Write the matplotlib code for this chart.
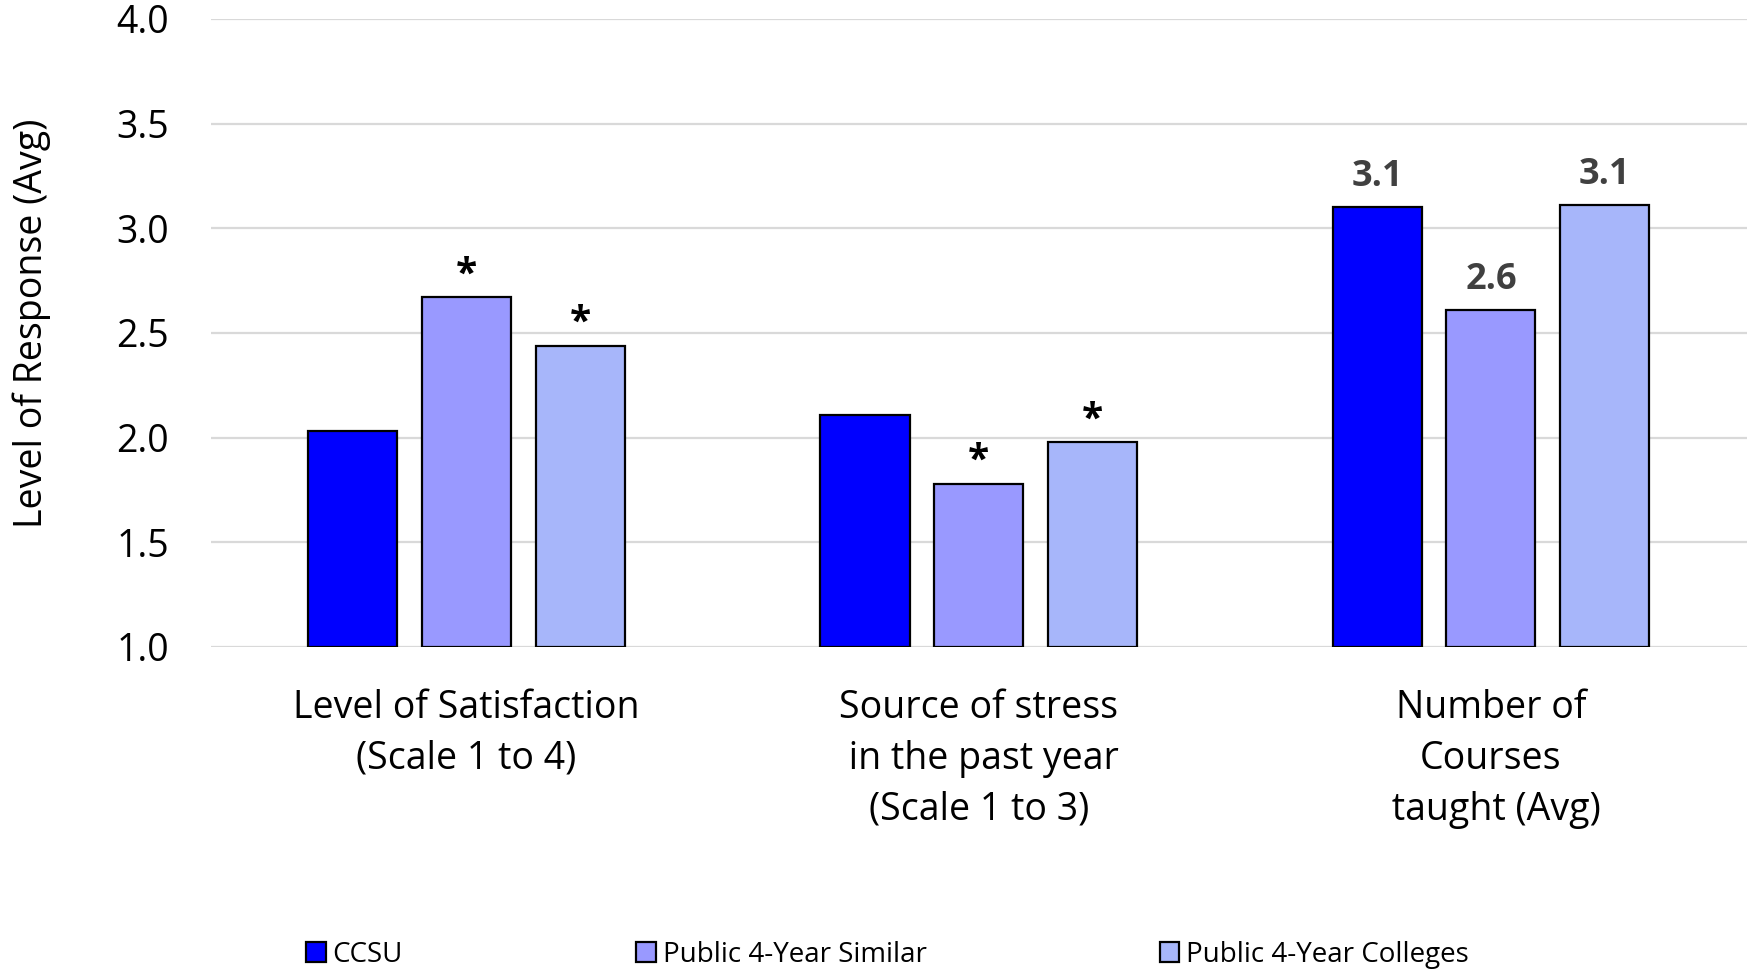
import matplotlib.pyplot as plt
import numpy as np

plt.rcParams['font.family'] = ['Open Sans', 'DejaVu Sans']

categories = ['Level of Satisfaction\n(Scale 1 to 4)',
              'Source of stress\n in the past year\n(Scale 1 to 3)',
              'Number of\nCourses\n taught (Avg)']
series = ['CCSU', 'Public 4-Year Similar', 'Public 4-Year Colleges']
ccsu = [2.03, 2.11, 3.10]
similar = [2.67, 1.78, 2.61]
colleges = [2.44, 1.98, 3.11]
# text shown above each bar ('' = nothing)
marks_ccsu = ['', '', '3.1']
marks_similar = ['*', '*', '2.6']
marks_colleges = ['*', '*', '3.1']
colors = ['#0000FF', '#9999FF', '#A7B6FA']

fig = plt.figure(figsize=(17.47, 9.72), dpi=100)
ax = fig.add_axes([0.1205, 0.3344, 0.8795, 0.6461])

x = np.arange(len(categories))
w = 0.174
step = 0.222
vals = [ccsu, similar, colleges]
marks = [marks_ccsu, marks_similar, marks_colleges]
bars_all = []
for i, (v, m) in enumerate(zip(vals, marks)):
    pos = x + (i - 1) * step
    bars = ax.bar(pos, np.array(v) - 1.0, bottom=1.0, width=w, color=colors[i],
                  edgecolor='black', linewidth=1.6, label=series[i], zorder=3)
    bars_all.append(bars)
    for p, val, txt in zip(pos, v, m):
        if txt == '*':
            ax.annotate(txt, (p, val), xytext=(0, 22), textcoords='offset pixels',
                        ha='center', va='center', fontsize=28, fontweight='bold',
                        color='black')
        elif txt:
            ax.annotate(txt, (p, val), xytext=(0, 30), textcoords='offset pixels',
                        ha='center', va='center', fontsize=26, fontweight='bold',
                        color='#404040')

ax.set_xlim(-0.5, 2.5)
ax.set_ylim(1.0, 4.0)
ax.set_yticks(np.arange(1.0, 4.01, 0.5))
ax.set_yticklabels([f'{t:.1f}' for t in np.arange(1.0, 4.01, 0.5)], fontsize=27)
ax.set_xticks(x)
ax.set_xticklabels(categories, fontsize=27, linespacing=1.45, va='top')
ax.tick_params(axis='both', length=0, pad=0)
ax.tick_params(axis='x', pad=30)
ax.tick_params(axis='y', pad=30)
ax.yaxis.grid(True, color='#d9d9d9', linewidth=1.6, zorder=0)
ax.set_axisbelow(True)
for s in ax.spines.values():
    s.set_visible(False)
ax.set_ylabel('Level of Response (Avg)', fontsize=27)
ax.yaxis.set_label_coords(-0.104, 0.515)

leg = fig.legend(handles=bars_all, labels=series, loc='center',
                 bbox_to_anchor=(0.508, 0.018), ncol=3, frameon=False,
                 fontsize=20, handlelength=0.7, handleheight=0.7,
                 handletextpad=0.25, columnspacing=8.4)

fig.savefig('out.png', dpi=100)
